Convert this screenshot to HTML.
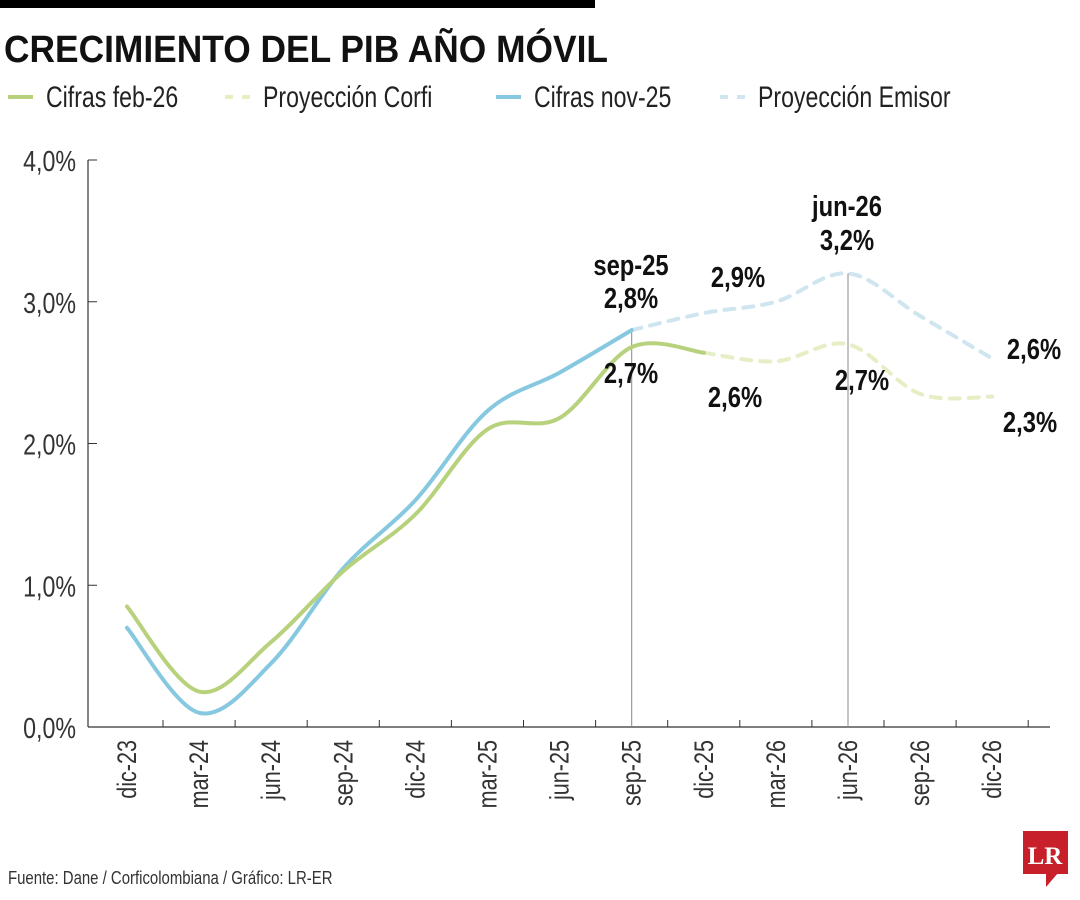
<!DOCTYPE html>
<html><head><meta charset="utf-8"><style>
html,body{margin:0;padding:0;background:#fff;}
svg{display:block;font-family:"Liberation Sans",sans-serif;}
</style></head><body>
<svg id="chart" width="1080" height="900" viewBox="0 0 1080 900">
<rect x="0" y="0" width="595" height="8" fill="#000"/>
<text transform="translate(4,62) scale(0.93,1)" font-size="38" font-weight="bold" fill="#111">CRECIMIENTO DEL PIB AÑO MÓVIL</text>
<g id="legend" font-size="28" fill="#222"></g>
<g id="axes"></g>
<g id="series"></g>
<g id="labels" font-weight="bold" fill="#111"></g>
<text transform="translate(8,884) scale(0.83,1)" font-size="18" fill="#333">Fuente: Dane / Corficolombiana / Gráfico: LR-ER</text>
<g>
<rect x="1023" y="831" width="45" height="43" fill="#c8202a"/>
<polygon points="1046,873 1058,873 1046,887" fill="#c8202a"/>
<text x="1045" y="864" text-anchor="middle" font-family="Liberation Serif,serif" font-weight="bold" font-size="25" fill="#fff">LR</text>
</g>
</svg>
<script>
const categories=["dic-23","mar-24","jun-24","sep-24","dic-24","mar-25","jun-25","sep-25","dic-25","mar-26","jun-26","sep-26","dic-26"];
const cifrasFeb26=[0.85,0.25,0.6,1.1,1.5,2.1,2.18,2.68,2.64,null,null,null,null];
const proyCorfi=[null,null,null,null,null,null,null,null,2.64,2.58,2.7,2.35,2.33];
const cifrasNov25=[0.7,0.1,0.45,1.12,1.6,2.23,2.5,2.8,null,null,null,null,null];
const proyEmisor=[null,null,null,null,null,null,null,2.8,2.92,3.0,3.2,2.9,2.6];
const yTicks=[0,1,2,3,4];
const yTickLabels=["0,0%","1,0%","2,0%","3,0%","4,0%"];
const NS="http://www.w3.org/2000/svg";
const X=i=>127+i*72.1;
const Y=v=>727-v*141.75;
function mk(tag,attrs,parent){const e=document.createElementNS(NS,tag);for(const k in attrs)e.setAttribute(k,attrs[k]);parent.appendChild(e);return e;}
const axes=document.getElementById('axes');
let a=mk('line',{x1:88,y1:160,x2:88,y2:727,stroke:'#333','stroke-width':1.2},axes);


a=mk('line',{x1:88,y1:727,x2:1050,y2:727,stroke:'#333','stroke-width':1.2},axes);


yTicks.forEach((v,i)=>{
 mk('line',{x1:88,x2:97,y1:Y(v),y2:Y(v),stroke:'#333'},axes);
 const t=mk('text',{transform:`translate(76,${Y(v)+11}) scale(0.8,1)`,'text-anchor':'end','font-size':29,fill:'#333'},axes);
 t.textContent=yTickLabels[i];
 
 
});
categories.forEach((c,i)=>{
 mk('line',{x1:X(i)+36,x2:X(i)+36,y1:720,y2:727,stroke:'#333'},axes);
 const t=mk('text',{transform:`translate(${X(i)+9},740) rotate(-90) scale(0.8,1)`,'text-anchor':'end','font-size':27,fill:'#333'},axes);
 t.textContent=c;
 
 
});
[7,10].forEach(i=>{const l=mk('line',{x1:X(i),x2:X(i),y1:i==7?Y(2.8):Y(3.2),y2:727,stroke:'#888','stroke-width':1},axes);

});
function path(arr){
 const pts=[];arr.forEach((v,i)=>{if(v!=null)pts.push([X(i),Y(v)]);});
 let d=`M${pts[0][0]},${pts[0][1]}`;
 for(let i=0;i<pts.length-1;i++){
  const p0=pts[i-1]||pts[i],p1=pts[i],p2=pts[i+1],p3=pts[i+2]||p2;
  const c1=[p1[0]+(p2[0]-p0[0])/6,p1[1]+(p2[1]-p0[1])/6];
  const c2=[p2[0]-(p3[0]-p1[0])/6,p2[1]-(p3[1]-p1[1])/6];
  d+=` C${c1[0]},${c1[1]} ${c2[0]},${c2[1]} ${p2[0]},${p2[1]}`;
 }
 return d;
}
const ser=document.getElementById('series');
const defs=[[proyEmisor,'#cfe5ef','10 9','emisor-projection-line'],[proyCorfi,'#e6eec6','10 9','corfi-projection-line'],[cifrasNov25,'#86c8df',null,'cifras-nov25-line'],[cifrasFeb26,'#b7d17c',null,'cifras-feb26-line']];
defs.forEach(([arr,col,dash,name])=>{
 const p=mk('path',{d:path(arr),fill:'none',stroke:col,'stroke-width':4,'stroke-linecap':'round'},ser);
 if(dash)p.setAttribute('stroke-dasharray',dash);
 
 
});
const lg=document.getElementById('legend');
const items=[[8,'#b7d17c',false,'Cifras feb-26'],[225,'#e6eec6',true,'Proyección Corfi'],[496,'#86c8df',false,'Cifras nov-25'],[720,'#cfe5ef',true,'Proyección Emisor']];
items.forEach(([x,col,dash,lab])=>{
 const g=mk('g',{},lg);
 
 
 if(dash){mk('line',{x1:x,x2:x+8,y1:97,y2:97,stroke:col,'stroke-width':4},g);mk('line',{x1:x+17,x2:x+25,y1:97,y2:97,stroke:col,'stroke-width':4},g);}
 else mk('line',{x1:x,x2:x+25,y1:97,y2:97,stroke:col,'stroke-width':4},g);
 const t=mk('text',{transform:`translate(${x+38},107) scale(0.77,1)`,'font-size':30,fill:'#222'},g);
 t.textContent=lab;
});
const lb=document.getElementById('labels');
const labs=[[631,275,'sep-25'],[631,308,'2,8%'],[631,383,'2,7%'],[738,287,'2,9%'],[735,407,'2,6%'],[847,216,'jun-26'],[847,250,'3,2%'],[862,390,'2,7%'],[1034,359,'2,6%'],[1030,432,'2,3%']];
labs.forEach(([x,y,s])=>{
 const t=mk('text',{transform:`translate(${x},${y}) scale(0.82,1)`,'text-anchor':'middle','font-size':29},lb);
 t.textContent=s;
 
 
});
</script>
</body></html>
